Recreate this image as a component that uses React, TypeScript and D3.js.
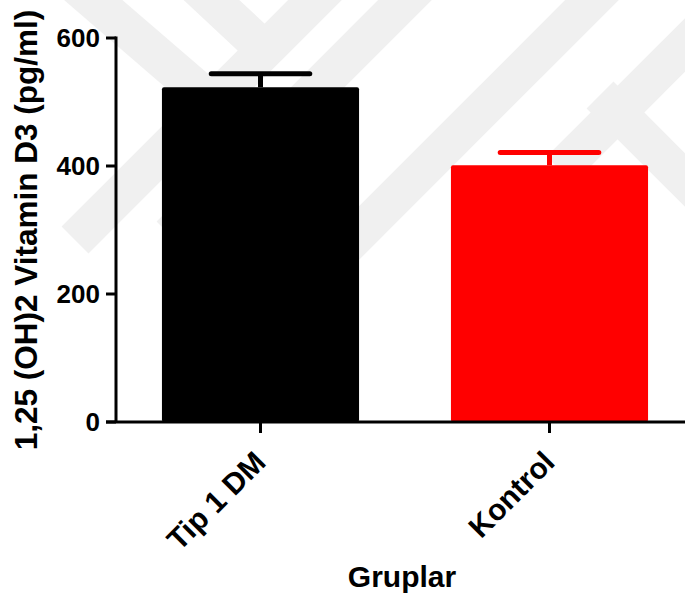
import React from "react";
import * as d3 from "d3";

const categories = ["Tip 1 DM", "Kontrol"];
const means = [523, 401];
const sems = [21, 20];
const barColors = ["#000000", "#ff0000"];
const yTicks = [0, 200, 400, 600];
const yTitle = "1,25 (OH)2 Vitamin D3 (pg/ml)";
const xTitle = "Gruplar";

// faint background watermark bands (decorative), as [x1,y1,x2,y2]
const watermark: [number, number, number, number][] = [
  [70, -20, 215, 105],
  [330, -15, 75, 240],
  [420, -15, 170, 235],
  [607, -15, 340, 252],
  [745, -15, 560, 170],
  [600, 95, 720, 215],
  [190, -20, 265, 50],
];

const W = 685;
const H = 601;
const FONT = "'Liberation Sans', Arial, Helvetica, sans-serif";

export default function App() {
  const y = d3.scaleLinear().domain([0, 600]).range([422, 38]);
  const x = d3
    .scaleBand<string>()
    .domain(categories)
    .range([116, 694])
    .paddingInner(0.318)
    .paddingOuter(0.159);
  const bw = x.bandwidth();
  const y0 = y(0);

  return (
    <svg
      width={W}
      height={H}
      style={{ position: "absolute", left: 0, top: 0, background: "#fff" }}
      fontFamily={FONT}
    >
      <rect x={0} y={0} width={W} height={H} fill="#ffffff" />
      <g stroke="#f0f0f0" strokeWidth={38} strokeLinecap="butt">
        {watermark.map((d, i) => (
          <line key={i} x1={d[0]} y1={d[1]} x2={d[2]} y2={d[3]} />
        ))}
      </g>

      {/* bars */}
      {categories.map((c, i) => {
        const bx = x(c)!;
        const cx = bx + bw / 2;
        return (
          <g key={c}>
            <line
              x1={cx}
              x2={cx}
              y1={y(means[i])}
              y2={y(means[i] + sems[i])}
              stroke={barColors[i]}
              strokeWidth={5}
            />
            <line
              x1={cx - bw / 4}
              x2={cx + bw / 4}
              y1={y(means[i] + sems[i])}
              y2={y(means[i] + sems[i])}
              stroke={barColors[i]}
              strokeWidth={5}
              strokeLinecap="round"
            />
            <rect
              x={bx}
              y={y(means[i])}
              width={bw}
              height={y0 - y(means[i])}
              fill={barColors[i]}
              rx={2}
            />
          </g>
        );
      })}

      {/* axes */}
      <line x1={116} x2={116} y1={y(600) - 1.5} y2={y0} stroke="#000" strokeWidth={3} />
      <line x1={106} x2={W} y1={y0} y2={y0} stroke="#000" strokeWidth={3} />
      {yTicks.map((t) => (
        <g key={t}>
          <line x1={106} x2={116} y1={y(t)} y2={y(t)} stroke="#000" strokeWidth={3} />
          <text
            x={100}
            y={y(t)}
            textAnchor="end"
            dominantBaseline="central"
            fontSize={26}
            fontWeight="bold"
            fill="#000"
          >
            {t}
          </text>
        </g>
      ))}
      {categories.map((c) => {
        const cx = x(c)! + bw / 2;
        return (
          <g key={c}>
            <line x1={cx} x2={cx} y1={y0} y2={y0 + 11} stroke="#000" strokeWidth={3} />
            <text
              transform={`translate(${cx + 7},${464}) rotate(-45)`}
              textAnchor="end"
              fontSize={30}
              fontWeight="bold"
              fill="#000"
            >
              {c}
            </text>
          </g>
        );
      })}

      <text
        transform={`translate(37,230) rotate(-90)`}
        textAnchor="middle"
        fontSize={31.5}
        fontWeight="bold"
        fill="#000"
      >
        {yTitle}
      </text>
      <text
        x={402}
        y={587}
        textAnchor="middle"
        fontSize={30}
        fontWeight="bold"
        fill="#000"
      >
        {xTitle}
      </text>
    </svg>
  );
}
